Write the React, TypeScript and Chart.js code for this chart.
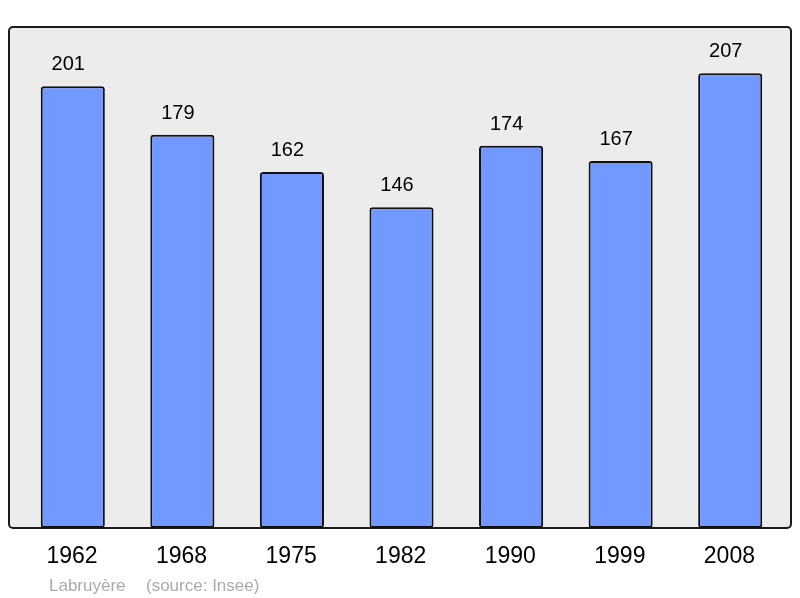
import React, { useEffect, useRef } from "react";
import { Chart, registerables } from "chart.js";

Chart.register(...registerables);

const years = ["1962", "1968", "1975", "1982", "1990", "1999", "2008"];
const population = [201, 179, 162, 146, 174, 167, 207];
const footerName = "Labruyère";
const footerSource = "(source: Insee)";

const FONT = "'Liberation Sans', Arial, sans-serif";

const decorPlugin = {
  id: "decor",
  beforeDraw(chart: any) {
    const { ctx, chartArea } = chart;
    ctx.save();
    ctx.fillStyle = "#ffffff";
    ctx.fillRect(0, 0, chart.width, chart.height);
    const x0 = chartArea.left - 9;
    const x1 = chartArea.right + 6;
    const y0 = chartArea.top;
    const y1 = chartArea.bottom;
    ctx.beginPath();
    (ctx as any).roundRect(x0, y0, x1 - x0, y1 - y0, 4);
    ctx.fillStyle = "#ececec";
    ctx.fill();
    ctx.lineWidth = 2;
    ctx.strokeStyle = "#1a1a1a";
    ctx.stroke();
    ctx.restore();
  },
  afterDatasetsDraw(chart: any) {
    const { ctx, chartArea } = chart;
    const xs = chart.scales.x;
    const ys = chart.scales.y;
    ctx.save();
    ctx.fillStyle = "#000000";
    ctx.textAlign = "center";
    ctx.textBaseline = "middle";
    ctx.font = `20px ${FONT}`;
    population.forEach((v, i) => {
      const x = xs.getPixelForValue(i);
      const y = ys.getPixelForValue(v);
      ctx.fillText(String(v), x - 4.5, y - 21.5);
    });
    ctx.font = `23px ${FONT}`;
    years.forEach((yr, i) => {
      const x = xs.getPixelForValue(i);
      ctx.fillText(yr, x - 0.8, chartArea.bottom + 29);
    });
    ctx.font = `17px ${FONT}`;
    ctx.fillStyle = "#aaaaaa";
    ctx.textAlign = "left";
    ctx.fillText(footerName, 49, chartArea.bottom + 58.5);
    ctx.fillText(footerSource, 146, chartArea.bottom + 58.5);
    ctx.restore();
  },
};

export default function App() {
  const ref = useRef<HTMLCanvasElement>(null);
  useEffect(() => {
    if (!ref.current) return;
    const chart = new Chart(ref.current, {
      type: "bar",
      data: {
        labels: years,
        datasets: [
          {
            data: population,
            backgroundColor: "#7299ff",
            borderColor: "#111111",
            borderWidth: 2,
            borderRadius: 3,
            borderSkipped: false,
            barPercentage: 0.585,
            categoryPercentage: 1,
          },
        ],
      },
      options: {
        animation: false,
        responsive: false,
        maintainAspectRatio: false,
        layout: { padding: { left: 18, right: 15, top: 27, bottom: 70 } },
        plugins: {
          legend: { display: false },
          tooltip: { enabled: false },
          title: { display: false },
        },
        scales: {
          x: { type: "category", display: false, offset: true },
          y: { display: false, min: 0, max: 228 },
        },
      },
      plugins: [decorPlugin],
    });
    return () => chart.destroy();
  }, []);
  return (
    <div style={{ position: "absolute", left: 0, top: 0, width: 800, height: 598 }}>
      <canvas ref={ref} width={800} height={598} style={{ width: 800, height: 598, display: "block" }} />
    </div>
  );
}
